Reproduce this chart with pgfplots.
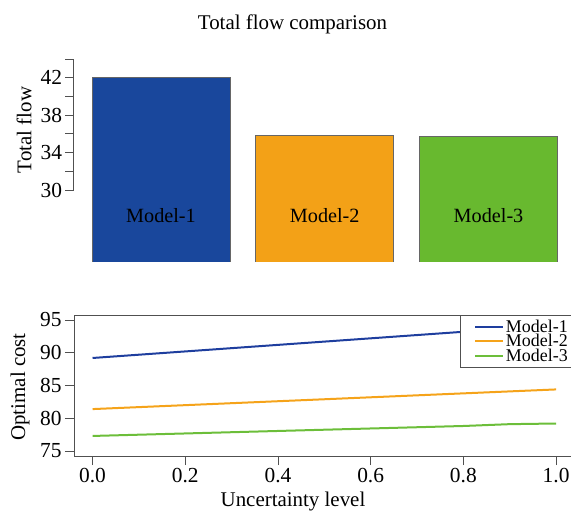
\documentclass[border=0pt]{standalone}
\usepackage{fontspec}
\setmainfont{Liberation Serif}
\usepackage{pgfplots}
\pgfplotsset{compat=1.18}
\definecolor{bblue}{HTML}{19479C}
\definecolor{borange}{HTML}{F3A117}
\definecolor{bgreen}{HTML}{68B92F}
\definecolor{lblue}{HTML}{1E3E9E}
\definecolor{lorange}{HTML}{F5A31A}
\definecolor{lgreen}{HTML}{6CBE3A}
\definecolor{axgray}{HTML}{505050}
\pgfplotstableread{
x m1 m2 m3
0.0 89.20 81.40 77.30
0.1 89.70 81.70 77.49
0.2 90.20 82.00 77.68
0.3 90.70 82.30 77.87
0.4 91.20 82.60 78.06
0.5 91.70 82.90 78.25
0.6 92.20 83.20 78.44
0.7 92.70 83.50 78.63
0.8 93.20 83.80 78.82
0.9 93.70 84.10 79.10
1.0 94.20 84.40 79.20
}\costdata
\begin{document}
\begin{tikzpicture}
\path[use as bounding box] (0,0) rectangle (571bp,512bp);
\node[anchor=base, font=\fontsize{21}{21}\selectfont] at (292.5bp,482.5bp) {Total flow comparison};
\begin{axis}[at={(74bp,250bp)}, anchor=south west, scale only axis,
  width=496.4bp, height=203bp, xmin=0.4687, xmax=3.5, ymin=22.3, ymax=44,
  hide axis, ybar, bar width=138bp, bar shift=0pt]
\addplot[fill=bblue, draw=black!60, line width=0.6bp] coordinates {(1,42)};
\addplot[fill=borange, draw=black!60, line width=0.6bp] coordinates {(2,35.8)};
\addplot[fill=bgreen, draw=black!60, line width=0.6bp] coordinates {(3,35.7)};
\node[anchor=base, font=\fontsize{20.3}{20.3}\selectfont] at (axis cs:1,26.47) {Model-1};
\node[anchor=base, font=\fontsize{20.3}{20.3}\selectfont] at (axis cs:2,26.47) {Model-2};
\node[anchor=base, font=\fontsize{20.3}{20.3}\selectfont] at (axis cs:3,26.47) {Model-3};
\end{axis}
\begin{axis}[at={(73.5bp,322bp)}, anchor=south west, scale only axis,
  width=20bp, height=131bp, xmin=0, xmax=1, ymin=30, ymax=44,
  axis y line*=left, hide x axis,
  ytick={30,32,34,36,38,40,42,44}, yticklabels={30,,34,,38,,42,},
  tick align=outside, major tick length=8bp,
  axis line style={axgray, line width=0.8bp}, tick style={axgray, line width=0.8bp},
  /pgf/number format/assume math mode=true,
  ticklabel style={font=\fontsize{21.5}{21.5}\selectfont}]
\addplot[draw=none] coordinates {(0,30) (1,44)};
\end{axis}
\node[rotate=90, font=\fontsize{21}{21}\selectfont] at (24bp,382bp) {Total flow};
\begin{axis}[at={(74bp,56bp)}, anchor=south west, scale only axis,
  width=509.9bp, height=141bp, xmin=-0.04, xmax=1.06, ymin=74.24, ymax=95.76,
  axis x line*=box, axis y line*=left,
  xtick={0,0.2,0.4,0.6,0.8,1.0}, ytick={75,80,85,90,95},
  xtick pos=bottom, ytick pos=left,
  tick align=outside, major tick length=9bp,
  axis line style={axgray, line width=0.8bp}, tick style={axgray, line width=0.8bp},
  /pgf/number format/assume math mode=true,
  ticklabel style={font=\fontsize{21.5}{21.5}\selectfont},
  xticklabel style={/pgf/number format/.cd, fixed, fixed zerofill, precision=1},
  legend style={at={(axis cs:1.04,95.76)}, anchor=north east, draw=axgray, line width=0.8bp,
    fill=white, font=\fontsize{18}{15}\selectfont, inner xsep=5bp, inner ysep=3bp,
    row sep=-2.5bp, cells={anchor=west}, nodes={inner sep=1.5bp}},
  legend image code/.code={\path (0bp,0bp); \draw[#1, line width=2bp] (9bp,0bp) -- (37bp,0bp);}]
\addplot[lblue, line width=2bp] table[x=x, y=m1] {\costdata};
\addlegendentry{Model-1}
\addplot[lorange, line width=2bp] table[x=x, y=m2] {\costdata};
\addlegendentry{Model-2}
\addplot[lgreen, line width=2bp] table[x=x, y=m3] {\costdata};
\addlegendentry{Model-3}
\end{axis}
\node[rotate=90, font=\fontsize{21}{21}\selectfont] at (20bp,125bp) {Optimal cost};
\node[anchor=base, font=\fontsize{21}{21}\selectfont] at (293bp,6bp) {Uncertainty level};
\end{tikzpicture}
\end{document}
